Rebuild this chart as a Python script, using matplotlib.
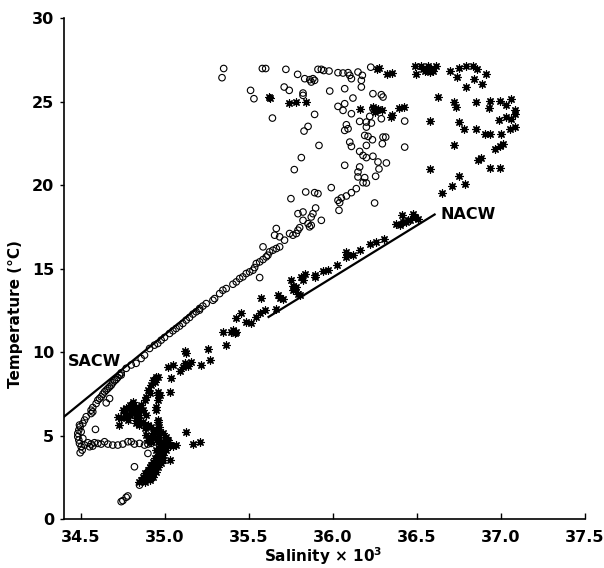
import matplotlib
matplotlib.use('Agg')
import matplotlib.pyplot as plt

# Open circles (South Atlantic stations) - salinity / temperature
circ_s = [
    # upper cloud
    35.35, 35.34, 35.58, 35.60, 35.72, 35.79, 35.51, 35.53, 35.71, 35.74, 35.64, 35.77, 35.75,
    35.911, 35.931, 35.945, 35.977, 36.030, 36.060, 36.090, 36.100, 36.110, 36.149, 36.175, 36.225,
    36.169, 35.832, 35.862, 35.881, 35.891, 35.871, 35.981, 36.070, 36.169, 36.119, 36.238, 36.288,
    36.298, 35.822, 35.822, 36.030, 36.060, 36.070, 36.110, 35.891, 36.238, 36.219, 36.199, 36.159,
    36.229, 36.288, 36.427, 35.852, 35.828, 36.080, 36.090, 36.070, 36.199, 36.189, 36.209, 36.235,
    36.298, 36.314, 36.294, 36.100, 36.110, 36.199, 35.917, 36.427, 35.812, 36.159, 36.179, 36.199,
    36.238, 36.268, 36.318, 36.070, 36.159, 36.149, 36.149, 36.189, 36.179, 36.199, 36.254, 36.274,
    35.990, 35.838, 35.891, 35.911, 36.139, 36.110, 36.080, 36.050, 36.030, 36.040, 36.248, 36.036,
    35.897, 35.881, 35.871, 35.822, 35.852, 35.871, 35.931, 35.802,
    # 17-18 degC
    35.564, 35.584, 35.663, 35.653, 35.683, 35.712, 35.742, 35.762, 35.782, 35.792, 35.792, 35.822,
    35.861,
    # SACW diagonal
    34.740, 34.770, 34.800, 34.829, 34.859, 34.879, 34.909, 34.938, 34.958, 34.978, 34.998, 35.028,
    35.048, 35.067, 35.087, 35.107, 35.127, 35.147, 35.167, 35.186, 35.206,
    35.207, 35.226, 35.246, 35.286, 35.296, 35.326, 35.345, 35.365, 35.405, 35.425, 35.445, 35.464,
    35.484, 35.504, 35.524, 35.534, 35.544, 35.564, 35.584, 35.603, 35.613, 35.623, 35.643, 35.663,
    35.683,
    34.561, 34.571, 34.591, 34.601, 34.611, 34.621, 34.631, 34.641, 34.651, 34.661, 34.671, 34.681,
    34.690, 34.700, 34.710, 34.720, 34.730, 34.740, 34.671, 34.651, 34.571, 34.561,
    # hook near 34.5
    34.532, 34.522, 34.512, 34.496, 34.488, 34.482, 34.482, 34.488, 34.492, 34.502, 34.508, 34.496,
    34.492, 34.502, 34.512, 34.522, 34.552, 34.571,
    # 4.5 degC layer
    34.542, 34.561, 34.581, 34.601, 34.621, 34.641, 34.661, 34.690, 34.720, 34.750, 34.780, 34.800,
    34.819, 34.849, 34.879, 34.899, 34.919,
    # deep
    34.587, 34.899, 34.819, 34.849, 34.740, 34.750, 34.770, 34.780,
]
circ_t = [
    27.0, 26.45, 27.0, 27.0, 26.95, 26.65, 25.69, 25.19, 25.89, 25.69, 24.03, 20.94, 19.20,
    26.95, 26.95, 26.88, 26.85, 26.75, 26.73, 26.75, 26.59, 26.39, 26.79, 26.59, 27.08,
    26.29, 26.39, 26.33, 26.39, 26.29, 26.19, 25.65, 25.79, 25.89, 25.23, 25.49, 25.43,
    25.29, 25.53, 25.39, 24.73, 24.49, 24.89, 24.29, 24.25, 24.59, 24.13, 23.79, 23.83,
    23.73, 23.99, 23.85, 23.53, 23.25, 23.63, 23.39, 23.29, 23.49, 22.99, 22.93, 22.73,
    22.89, 22.89, 22.49, 22.59, 22.33, 22.39, 22.39, 22.29, 21.66, 22.03, 21.79, 21.66,
    21.74, 21.40, 21.34, 21.20, 21.10, 20.80, 20.50, 20.46, 20.16, 20.14, 20.54, 20.98,
    19.86, 19.60, 19.56, 19.50, 19.80, 19.56, 19.36, 19.24, 19.10, 18.96, 18.94, 18.50,
    18.64, 18.30, 18.10, 18.40, 17.70, 17.60, 17.90, 17.46,
    14.47, 16.31, 17.41, 17.01, 16.91, 16.71, 17.11, 17.01, 17.11, 17.31, 18.30, 17.90,
    17.51,
    8.63, 9.03, 9.23, 9.33, 9.62, 9.82, 10.22, 10.42, 10.52, 10.72, 10.88, 11.12,
    11.28, 11.42, 11.56, 11.72, 11.92, 12.08, 12.28, 12.42, 12.52,
    12.62, 12.76, 12.91, 13.11, 13.21, 13.51, 13.71, 13.81, 14.07, 14.21, 14.41, 14.51,
    14.71, 14.81, 14.91, 15.07, 15.31, 15.41, 15.55, 15.71, 15.81, 16.01, 16.11, 16.21,
    16.31,
    6.52, 6.68, 6.92, 7.12, 7.22, 7.32, 7.48, 7.62, 7.72, 7.82, 7.92, 8.02,
    8.16, 8.28, 8.36, 8.48, 8.62, 8.76, 7.22, 6.96, 6.42, 6.32,
    6.13, 5.93, 5.73, 5.53, 5.33, 5.13, 4.93, 4.73, 4.53, 4.33, 4.13, 3.97,
    5.63, 5.23, 4.83, 4.43, 4.33, 4.37,
    4.57, 4.49, 4.57, 4.53, 4.49, 4.63, 4.49, 4.43, 4.43, 4.49, 4.63, 4.63,
    4.49, 4.53, 4.43, 4.49, 4.53,
    5.37, 3.93, 3.13, 2.03, 1.04, 1.10, 1.30, 1.38,
]

# Asterisks (North Atlantic stations)
star_s = [
    # upper right cloud
    36.487, 36.496, 36.526, 36.546, 36.566, 36.576, 36.596, 36.615, 36.536, 36.586, 36.556,
    36.699, 36.750, 36.790, 36.834, 36.858, 36.909, 36.739, 36.838, 36.889, 36.790, 36.625,
    36.719, 36.731, 36.850, 36.937, 36.992, 36.929, 37.062, 37.032, 37.082, 37.082, 37.062,
    37.032, 36.989, 36.576, 36.750, 36.778, 36.850, 36.903, 36.933, 37.002, 37.052, 37.082,
    36.719, 36.963, 36.992, 37.012, 36.863, 36.883, 36.933, 36.992, 36.580, 36.750, 36.711,
    36.784, 36.651,
    36.262, 36.272, 36.322, 36.354, 36.159, 36.248, 36.238, 36.268, 36.250, 36.258, 36.294,
    36.354, 36.348, 36.393, 36.421, 35.62, 35.625, 35.74, 35.78, 35.84,
    # NACW band
    36.377, 36.397, 36.413, 36.437, 36.457, 36.476, 36.486, 36.506, 36.447, 36.417,
    35.256, 35.365, 35.345, 35.405, 35.425, 35.415, 35.395, 35.425, 35.455, 35.484, 35.514,
    35.544, 35.564, 35.593, 35.574, 35.673, 35.683, 35.703, 35.663, 35.752, 35.762, 35.772,
    35.782, 35.792, 35.802, 35.762, 35.812, 35.832, 35.822, 35.891, 35.891, 35.941, 35.970,
    36.024, 36.080, 36.076, 36.090, 36.119, 36.163, 36.222, 36.258, 36.302,
    # 35.0 - 35.3, 7 - 10 degC
    35.117, 35.127, 35.266, 35.217, 35.157, 35.117, 35.137, 35.107, 35.092, 35.048, 35.018,
    35.038, 35.028, 34.959, 34.939, 34.959, 34.969, 34.959, 34.949, 34.959, 35.127, 35.068,
    35.167, 35.207, 35.018, 35.028,
    # lower cluster
    34.948, 34.929, 34.919, 34.899, 34.909, 34.889, 34.879, 34.958,
    34.810, 34.790, 34.770, 34.750, 34.800, 34.819, 34.849, 34.839, 34.740, 34.720, 34.730,
    34.780, 34.770, 34.829, 34.869, 34.899, 34.919, 34.948, 34.968, 34.988, 34.879, 34.849,
    34.968, 34.948, 34.958, 35.028, 35.048,
    34.829, 34.859, 34.869, 34.849, 34.889, 34.790, 34.760, 34.829,
    34.929, 34.909, 34.889, 34.939, 34.919, 34.899,
    # deep tail
    34.968, 34.958, 34.978, 34.988, 34.968, 34.948, 34.998, 35.008, 34.978, 34.958, 34.939,
    34.929, 34.919, 34.909, 34.899, 34.879, 34.869, 34.859, 34.968, 34.958, 34.948, 34.939,
    34.929, 34.909, 34.889, 34.988, 35.008, 35.004, 35.018, 34.849, 34.879, 34.899, 34.988,
    34.978, 34.958, 34.948, 34.929, 34.909,
]
star_t = [
    27.18, 26.69, 27.18, 26.88, 27.18, 26.79, 26.88, 27.18, 26.98, 26.98, 26.92,
    26.88, 27.02, 27.14, 27.14, 26.98, 26.65, 26.49, 26.39, 26.09, 25.89, 25.29,
    24.99, 24.69, 24.99, 25.05, 25.05, 24.63, 25.19, 24.79, 24.49, 24.29, 23.99,
    24.09, 23.89, 23.85, 23.79, 23.35, 23.35, 23.05, 23.05, 23.09, 23.35, 23.49,
    22.39, 22.19, 22.33, 22.45, 21.50, 21.64, 21.06, 21.06, 20.96, 20.56, 19.94,
    20.06, 19.56,
    26.98, 27.02, 26.69, 26.75, 24.59, 24.59, 24.69, 24.55, 24.40, 24.49, 24.49,
    24.19, 24.09, 24.65, 24.69, 25.29, 25.25, 24.95, 24.99, 24.99,
    17.71, 17.61, 18.22, 17.81, 17.91, 18.30, 18.10, 18.00, 17.90, 17.80,
    10.18, 10.42, 11.18, 11.32, 11.22, 11.12, 11.22, 12.06, 12.32, 11.82, 11.76,
    12.08, 12.36, 12.52, 13.25, 13.41, 13.27, 13.17, 12.56, 14.31, 13.95, 13.81,
    13.91, 13.51, 13.41, 13.71, 14.51, 14.71, 14.31, 14.51, 14.61, 14.87, 14.91,
    15.21, 16.01, 15.71, 15.81, 15.81, 16.15, 16.51, 16.61, 16.81,
    10.08, 9.96, 9.52, 9.22, 9.42, 9.32, 9.16, 9.12, 8.88, 9.22, 9.08,
    8.43, 7.63, 8.49, 8.23, 7.63, 7.43, 7.13, 6.69, 5.83, 5.23, 4.43,
    4.49, 4.63, 4.73, 3.54,
    8.53, 8.33, 8.03, 7.73, 7.53, 7.33, 7.13, 7.43,
    7.03, 6.83, 6.63, 6.53, 6.53, 6.33, 6.23, 6.53, 6.03, 6.13, 5.63,
    5.93, 6.09, 6.03, 5.83, 5.63, 5.53, 5.33, 5.23, 5.13, 5.43, 5.63,
    5.53, 6.53, 5.93, 4.43, 4.37,
    6.73, 6.83, 6.53, 5.93, 6.23, 6.23, 6.33, 5.73,
    5.13, 4.93, 5.03, 4.83, 4.63, 4.73,
    4.93, 4.63, 4.53, 4.33, 4.23, 4.13, 4.73, 4.93, 4.03, 3.83, 3.64,
    3.44, 3.24, 3.14, 2.94, 2.74, 2.54, 2.34, 3.64, 3.44, 3.24, 3.04,
    2.84, 2.64, 2.44, 3.83, 4.43, 4.13, 4.63, 2.24, 2.24, 2.54, 3.54,
    3.34, 3.14, 2.84, 2.54, 2.34,
]

# water mass reference lines
sacw_s = [34.4, 35.2]
sacw_t = [6.13, 12.7]
nacw_s = [35.617, 36.605]
nacw_t = [12.11, 18.25]

fig = plt.figure(figsize=(6.04, 5.68), dpi=100)
ax = fig.add_axes([0.106, 0.0863, 0.8626, 0.8812])

ax.plot(sacw_s, sacw_t, color='black', linewidth=1.6, zorder=1)
ax.plot(nacw_s, nacw_t, color='black', linewidth=1.6, zorder=1)

ax.scatter(circ_s, circ_t, s=22, facecolors='none', edgecolors='black', linewidths=0.8, zorder=2)
ax.scatter(star_s, star_t, s=28, marker=(8, 2, 0), color='black', linewidths=0.9, zorder=3)
ax.scatter(star_s, star_t, s=5, marker='o', color='black', linewidths=0, zorder=3)

ax.text(34.42, 9.46, 'SACW', fontsize=11.5, fontweight='bold', va='center', ha='left')
ax.text(36.64, 18.25, 'NACW', fontsize=11.5, fontweight='bold', va='center', ha='left')

ax.set_xlim(34.4, 37.5)
ax.set_ylim(0, 30)
ax.set_xticks([34.5, 35.0, 35.5, 36.0, 36.5, 37.0, 37.5])
ax.set_xticklabels(['34.5', '35.0', '35.5', '36.0', '36.5', '37.0', '37.5'])
ax.set_yticks([0, 5, 10, 15, 20, 25, 30])

for side in ['top', 'right']:
    ax.spines[side].set_visible(False)
for side in ['left', 'bottom']:
    ax.spines[side].set_linewidth(1.2)

ax.tick_params(axis='x', direction='in', length=4, width=1, pad=8, labelsize=11.5)
ax.tick_params(axis='y', direction='out', length=3, width=1, pad=4, labelsize=11.5)
for lab in ax.get_xticklabels() + ax.get_yticklabels():
    lab.set_fontweight('bold')

ax.set_xlabel('Salinity \u00d7 10$^{\\mathbf{3}}$', fontsize=11, fontweight='bold', va='center')
ax.set_ylabel('Temperature (\u00b0C)', fontsize=11, fontweight='bold', va='center')
ax.xaxis.set_label_coords(0.497, -0.074)
ax.yaxis.set_label_coords(-0.093, 0.41)

plt.savefig('out.png', dpi=100)
